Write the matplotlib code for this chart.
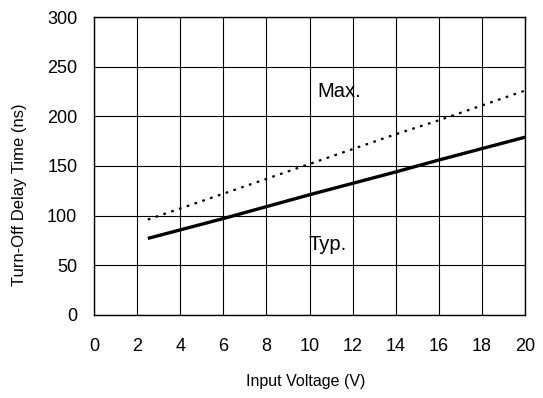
import matplotlib
matplotlib.use("Agg")
import matplotlib.pyplot as plt

plt.rcParams['font.family'] = ['Liberation Sans', 'DejaVu Sans']

typ_x = [2.5, 6, 10, 14, 16, 20]
typ_y = [77, 97, 121, 144, 156, 179]
max_x = [2.5, 6, 10, 14, 16, 20]
max_y = [96, 122, 152, 182, 196, 226]
xticks = list(range(0, 21, 2))
yticks = list(range(0, 301, 50))

fig = plt.figure(figsize=(5.43, 3.98), dpi=100)
ax = fig.add_axes([0.173, 0.209, 0.794, 0.748])
ax.set_xlim(0, 20)
ax.set_ylim(0, 300)
ax.set_xticks(xticks)
ax.set_yticks(yticks)
ax.grid(True, color='black', linewidth=0.8)
ax.tick_params(length=0, labelsize=13)
ax.tick_params(axis='x', pad=17)
ax.tick_params(axis='y', pad=12)
for s in ax.spines.values():
    s.set_linewidth(1.0)
ax.plot(typ_x, typ_y, color='black', linewidth=2.4, solid_capstyle='butt')
ax.plot(max_x, max_y, color='black', linewidth=1.6, linestyle=(0, (1.2, 2.5)))
ax.text(10.35, 219, 'Max.', fontsize=14.5, va='baseline', ha='left')
ax.text(9.93, 65.5, 'Typ.', fontsize=14.5, va='baseline', ha='left')
ax.set_xlabel('Input Voltage (V)', fontsize=11.5)
ax.xaxis.set_label_coords(0.49, -0.225)
ax.set_ylabel('Turn-Off Delay Time (ns)', fontsize=12)
ax.yaxis.set_label_coords(-0.172, 0.405)
ax.yaxis.label.set_va('center')
ax.xaxis.label.set_va('center')
fig.savefig('out.png', dpi=100)
